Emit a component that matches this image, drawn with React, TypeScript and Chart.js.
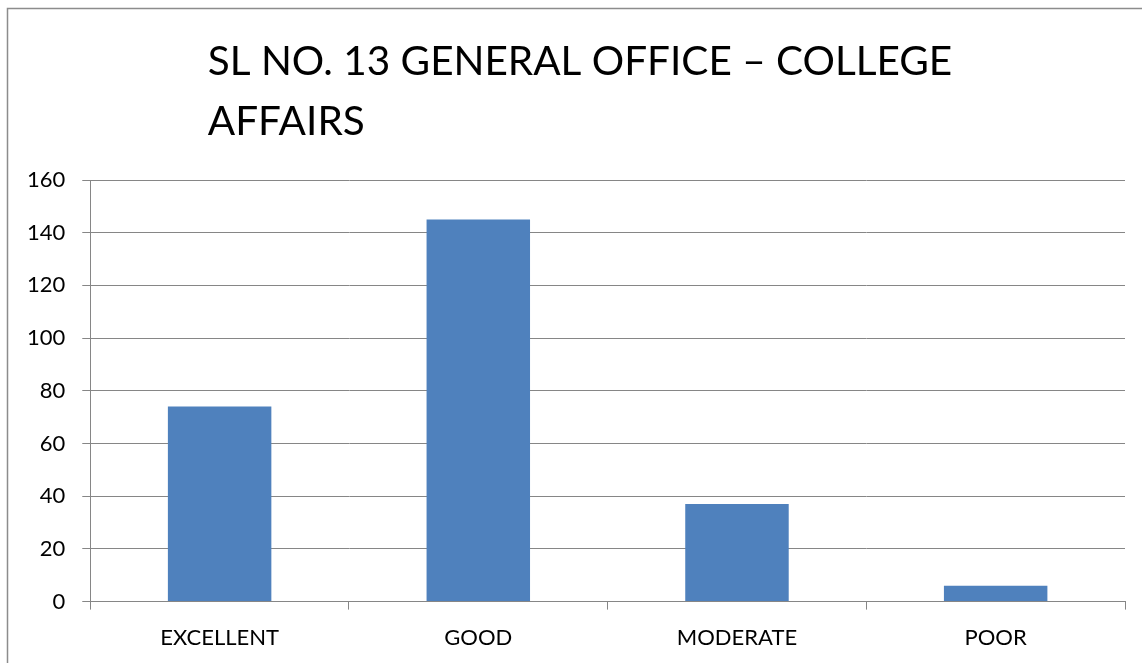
import React, { useEffect, useRef } from "react";
import { Chart, registerables } from "chart.js";

Chart.register(...registerables);

const categories = ["EXCELLENT", "GOOD", "MODERATE", "POOR"];
const values = [74, 145, 37, 6];
const titleLines = ["SL NO. 13 GENERAL OFFICE – COLLEGE", "AFFAIRS"];
const yMin = 0;
const yMax = 160;
const yStep = 20;

const FONT = "Lato";
const GRAY = "#868686";

const framePlugin = {
  id: "frame",
  beforeDraw(chart: any) {
    const ctx = chart.ctx;
    ctx.save();
    ctx.strokeStyle = "#8c8c8c";
    ctx.lineWidth = 1.5;
    ctx.beginPath();
    ctx.moveTo(7.5, 3000);
    ctx.lineTo(7.5, 8.5);
    ctx.lineTo(3000, 8.5);
    ctx.stroke();
    ctx.restore();
  },
  afterDraw(chart: any) {
    const ctx = chart.ctx;
    ctx.save();
    ctx.font = `40.5px ${FONT}`;
    ctx.fillStyle = "#000";
    ctx.textBaseline = "alphabetic";
    const w1 = ctx.measureText(titleLines[0]).width;
    const left = 580 - w1 / 2;
    ctx.fillText(titleLines[0], left, 75);
    ctx.fillText(titleLines[1], left, 135);
    ctx.restore();
  },
};

export default function App() {
  const ref = useRef<HTMLCanvasElement>(null);
  useEffect(() => {
    if (!ref.current) return;
    const chart = new Chart(ref.current, {
      type: "bar",
      data: {
        labels: categories,
        datasets: [
          {
            data: values,
            backgroundColor: "#4F81BD",
            borderWidth: 0,
            barPercentage: 0.4,
            categoryPercentage: 1,
          },
        ],
      },
      options: {
        animation: false,
        responsive: true,
        maintainAspectRatio: false,
        layout: { padding: { top: 180, left: 10, right: 17, bottom: -4 } },
        plugins: {
          legend: { display: false },
          title: { display: false },
          tooltip: { enabled: false },
        },
        scales: {
          x: {
            grid: {
              display: true,
              drawOnChartArea: false,
              drawTicks: true,
              tickLength: 8,
              color: GRAY,
              offset: true,
            },
            border: { display: true, color: GRAY, width: 1 },
            ticks: {
              color: "#000",
              font: { family: FONT, size: 22 },
              padding: 15.5,
            },
          },
          y: {
            min: yMin,
            max: yMax,
            grid: {
              color: GRAY,
              tickLength: 8,
              drawTicks: true,
            },
            border: { display: true, color: GRAY, width: 1 },
            ticks: {
              stepSize: yStep,
              color: "#000",
              font: { family: FONT, size: 22 },
              padding: 17,
            },
          },
        },
      },
      plugins: [framePlugin],
    });
    return () => chart.destroy();
  }, []);
  return (
    <div style={{ position: "absolute", left: 0, top: 0, width: 1142, height: 663, background: "#fff" }}>
      <canvas ref={ref} />
    </div>
  );
}
